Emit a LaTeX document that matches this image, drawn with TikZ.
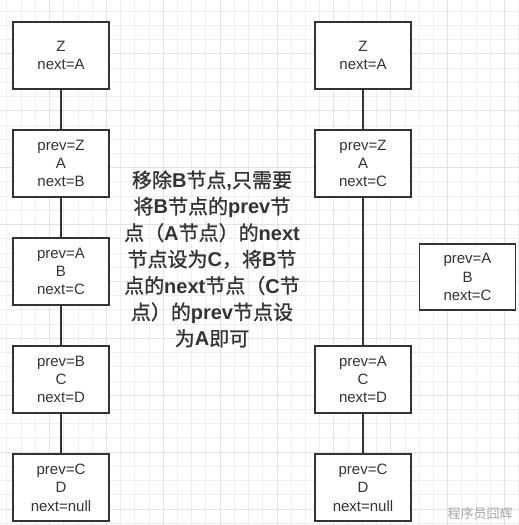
\documentclass[tikz,border=0pt]{standalone}
\usepackage{fontspec}
\setmainfont{Liberation Sans}
\newfontfamily\cjk{Noto Sans CJK SC}
\newfontfamily\cjkbold[FakeBold=1]{Noto Sans CJK SC}
\usetikzlibrary{positioning}
\definecolor{linegray}{HTML}{333333}
\definecolor{gridminor}{HTML}{EEEEEE}
\definecolor{gridmajor}{HTML}{E2E2E2}
\newcommand\lb[1]{{\rmfamily\bfseries #1}}

\begin{document}
\begin{tikzpicture}[
x=0.75pt,y=-0.75pt,
listnode/.style={draw=linegray,line width=1.4pt,fill=white,text=linegray,
  minimum width=72pt,minimum height=50pt,inner sep=0pt,align=center,
  font=\fontsize{11.25}{13.75}\selectfont},
link/.style={draw=linegray,line width=1.4pt},
node distance=81pt
]
\useasboundingbox (0,0) rectangle (518,525);
\fill[white] (0,0) rectangle (518,525);

% grid paper
\foreach \i in {0,...,36}
	\draw[gridminor,line width=0.75pt] ({6.9+14.22*\i},0) -- ({6.9+14.22*\i},525);
\foreach \j in {0,...,36}
	\draw[gridminor,line width=0.75pt] (0,{11.3+14.22*\j}) -- (518,{11.3+14.22*\j});
\foreach \k in {0,...,8}
	\draw[gridmajor,line width=0.75pt] ({49.56+56.88*\k},0) -- ({49.56+56.88*\k},525);
\foreach \k in {0,...,8}
	\draw[gridmajor,line width=0.75pt] (0,{53.96+56.88*\k}) -- (518,{53.96+56.88*\k});

% before: Z - A - B - C - D
\node[listnode] (lz) at (61,55.5) {Z\\next=A};
	\node[listnode] (la) [below of=lz] {prev=Z\\A\\next=B};
	\node[listnode] (lb) [below of=la] {prev=A\\B\\next=C};
	\node[listnode] (lc) [below of=lb] {prev=B\\C\\next=D};
	\node[listnode] (ld) [below of=lc] {prev=C\\D\\next=null};

% after: B removed
\node[listnode] (rz) at (363,55.5) {Z\\next=A};
	\node[listnode] (ra) [below of=rz] {prev=Z\\A\\next=C};
	\node[listnode] (rc) [below of=ra,node distance=162pt] {prev=A\\C\\next=D};
	\node[listnode] (rd) [below of=rc] {prev=C\\D\\next=null};
\node[listnode] (rb) at (467.5,277) {prev=A\\B\\next=C};

\path[link] (lz) -- (la);
\path[link] (la) -- (lb);
\path[link] (lb) -- (lc);
\path[link] (lc) -- (ld);
\path[link] (rz) -- (ra);
\path[link] (ra) -- (rc);
\path[link] (rc) -- (rd);

\node[text=linegray,align=center,font=\cjkbold\fontsize{15}{19.8}\selectfont] (note) at (212,259)
	{移除\lb{B}节点\lb{,}只需要\\
	将\lb{B}节点的\lb{prev}节\\
	点（\lb{A}节点）的\lb{next}\\
	节点设为\lb{C}，将\lb{B}节\\
	点的\lb{next}节点（\lb{C}节\\
	点）的\lb{prev}节点设\\
	为\lb{A}即可};

\node[text=gray!70,font=\cjk\fontsize{9.75}{11}\selectfont] (wm) at (480,514) {程序员囧辉};

\end{tikzpicture}
\end{document}
